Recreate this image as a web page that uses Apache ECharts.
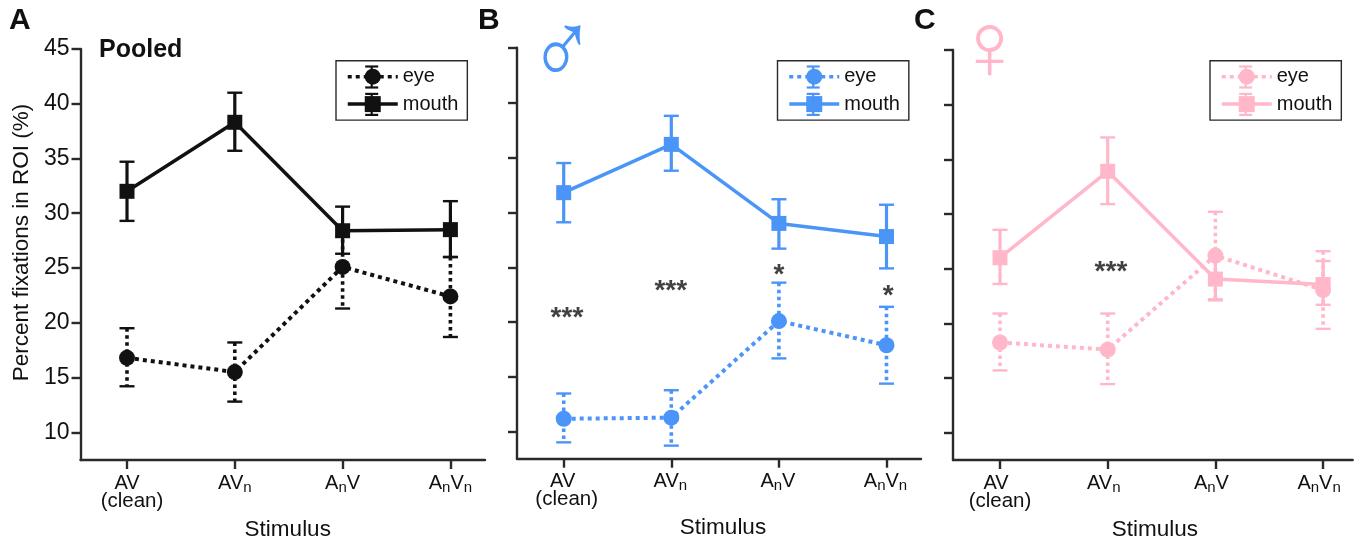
<!DOCTYPE html>
<html><head><meta charset="utf-8">
<style>html,body{margin:0;padding:0;background:#fff}#c{width:1360px;height:546px}</style>
<script src="https://cdn.jsdelivr.net/npm/echarts@6/dist/echarts.min.js"></script>
</head><body><div id="c"></div>
<script>
const categories = ['{a|AV}\n{c|(clean)}', '{a|AV}{s|n}', '{a|A}{s|n}{a|V}', '{a|A}{s|n}{a|V}{s|n}'];
const yTicks = [10, 15, 20, 25, 30, 35, 40, 45];

const eyeA = [16.8, 15.5, 25.1, 22.4];
const eyeAHi = [19.5, 18.2, 28.9, 26.0];
const eyeALo = [14.2, 12.8, 21.3, 18.7];
const mouthA = [32.0, 38.3, 28.4, 28.5];
const mouthAHi = [34.7, 41.0, 30.6, 31.1];
const mouthALo = [29.3, 35.7, 26.3, 26.0];

const eyeB = [11.2, 11.3, 20.1, 17.9];
const eyeBHi = [13.5, 13.8, 23.6, 21.4];
const eyeBLo = [9.05, 8.75, 16.7, 14.4];
const mouthB = [31.8, 36.2, 29.0, 27.8];
const mouthBHi = [34.5, 38.8, 31.2, 30.7];
const mouthBLo = [29.1, 33.8, 26.7, 24.9];

const eyeC = [18.25, 17.6, 26.2, 23.05];
const eyeCHi = [20.9, 20.9, 30.2, 26.6];
const eyeCLo = [15.7, 14.45, 22.2, 19.5];
const mouthC = [26.0, 33.9, 24.05, 23.55];
const mouthCHi = [28.55, 37.0, 26.0, 25.7];
const mouthCLo = [23.6, 30.9, 22.1, 21.7];

// significance marks: [x position, y value, text]
const sigB = [[0.03, 21.0, '***'], [0.995, 23.45, '***'], [2.0, 24.9, '*'], [3.015, 23.0, '*']];
const sigC = [[1.03, 25.3, '***']];

const BLUE = '#4a95f7', PINK = '#ffb7c9', INK = '#111', AXIS = '#2a2a2a';
const FONT = '"Liberation Sans", Arial, sans-serif';

const panels = [
  {id:'A', color:INK,  eye:eyeA, eyeHi:eyeAHi, eyeLo:eyeALo, mouth:mouthA, mouthHi:mouthAHi, mouthLo:mouthALo, sig:[],
   left:80.5, right:485, first:127, step:107.8, top:48.9, bottom:460.8, min:7.47, labels:true, shift:0, nameShift:5, legendLeft:336},
  {id:'B', color:BLUE, eye:eyeB, eyeHi:eyeBHi, eyeLo:eyeBLo, mouth:mouthB, mouthHi:mouthBHi, mouthLo:mouthBLo, sig:sigB,
   left:517, right:921, first:563.7, step:107.6, top:47.8, bottom:458.7, min:7.56, labels:false, shift:-1, nameShift:4, legendLeft:777.5},
  {id:'C', color:PINK, eye:eyeC, eyeHi:eyeCHi, eyeLo:eyeCLo, mouth:mouthC, mouthHi:mouthCHi, mouthLo:mouthCLo, sig:sigC,
   left:953, right:1352.7, first:1000, step:107.7, top:49.9, bottom:461.1, min:7.51, labels:false, shift:-4, nameShift:2, legendLeft:1210}
];

function errItem(color, dashed) {
  return function (params, api) {
    const x = api.value(0);
    const hi = api.coord([x, api.value(1)]);
    const lo = api.coord([x, api.value(2)]);
    const cap = 7.5;
    const stem = {stroke: color, lineWidth: dashed ? 3.6 : 3.2, lineDash: dashed ? [3.5, 3.5] : null};
    const capSt = {stroke: color, lineWidth: 2.4};
    return {type: 'group', children: [
      {type:'line', shape:{x1:hi[0], y1:hi[1], x2:lo[0], y2:lo[1]}, style: stem},
      {type:'line', shape:{x1:hi[0]-cap, y1:hi[1], x2:hi[0]+cap, y2:hi[1]}, style: capSt},
      {type:'line', shape:{x1:lo[0]-cap, y1:lo[1], x2:lo[0]+cap, y2:lo[1]}, style: capSt}
    ]};
  };
}

const grid = [], xAxis = [], yAxis = [], legend = [], series = [], legendGlyphs = [];
panels.forEach((p, i) => {
  grid.push({left:p.left, top:p.top, width:p.right-p.left, height:p.bottom-p.top, containLabel:false});
  const lab = {fontSize:20, color:INK, fontFamily:FONT};
  xAxis.push({
    type:'value', gridIndex:i,
    min:-(p.first-p.left)/p.step, max:3+(p.right-(p.first+3*p.step))/p.step,
    splitLine:{show:false},
    axisLine:{onZero:false, lineStyle:{color:AXIS, width:2.4}},
    axisTick:{customValues:[0,1,2,3], length:9, lineStyle:{color:AXIS, width:2.4}},
    axisLabel:{customValues:[0,1,2,3], margin:11, formatter:v => categories[v],
      padding: p.shift < 0 ? [0, -2*p.shift, 0, 0] : 0,
      rich:{a:{...lab, lineHeight:24}, c:{...lab, fontSize:20.5, lineHeight:12, padding:[0,0,0,p.id==='A'?10:8]},
            s:{fontSize:15, color:INK, fontFamily:FONT, lineHeight:12, padding:[12,0,0,0], verticalAlign:'bottom'}}},
    name:'Stimulus', nameLocation:'middle', nameGap:58,
    nameTextStyle:{fontSize:22.5, color:INK, fontFamily:FONT, padding:[0,0,0,2*p.nameShift]}
  });
  yAxis.push({
    type:'value', gridIndex:i, min:p.min, max:45,
    splitLine:{show:false},
    axisLine:{onZero:false, lineStyle:{color:AXIS, width:2.4}},
    axisTick:{customValues:yTicks, length:9, lineStyle:{color:AXIS, width:2.4}},
    axisLabel:{show:p.labels, customValues:yTicks, margin:11, fontSize:23, color:INK, fontFamily:FONT},
    name:p.labels ? 'Percent fixations in ROI (%)' : '', nameLocation:'middle', nameGap:47,
    nameTextStyle:{fontSize:22.5, color:INK, fontFamily:FONT, padding:[0,0,0,24]}
  });
  const eyeName = 'eye-' + p.id, mouthName = 'mouth-' + p.id;
  legend.push({
    data:[eyeName, mouthName], orient:'vertical', left:p.legendLeft, top:60.7,
    selectedMode:false, borderColor:AXIS, borderWidth:1.4, backgroundColor:'#fff',
    padding:[6,9,6,10], itemWidth:50, itemHeight:20, itemGap:7.4,
    lineStyle:{width:3.5},
    textStyle:{fontSize:20, lineHeight:20, color:INK, fontFamily:FONT},
    formatter:n => n.split('-')[0], z:10
  });
  // error-bar part of the legend keys
  [77, 104.4].forEach(cy => {
    const cx = p.legendLeft + 35.7, h = 10.5, w = 6.5;
    const st = {stroke:p.color, lineWidth:2.2};
    legendGlyphs.push(
      {type:'line', z:30, shape:{x1:cx, y1:cy-h, x2:cx, y2:cy+h}, style:st},
      {type:'line', z:30, shape:{x1:cx-w, y1:cy-h, x2:cx+w, y2:cy-h}, style:st},
      {type:'line', z:30, shape:{x1:cx-w, y1:cy+h, x2:cx+w, y2:cy+h}, style:st});
  });
  const rows = (m, h, l) => m.map((_, k) => [k, h[k], l[k]]);
  const errCommon = {type:'custom', xAxisIndex:i, yAxisIndex:i, encode:{x:0, y:[1,2]}, silent:true, clip:false};
  series.push({...errCommon, name:'eye err '+p.id, renderItem:errItem(p.color, true), data:rows(p.eye,p.eyeHi,p.eyeLo), z:2});
  series.push({type:'line', name:eyeName, xAxisIndex:i, yAxisIndex:i, data:p.eye.map((v,k)=>[k,v]),
    symbol:'circle', symbolSize:16, showSymbol:true, itemStyle:{color:p.color},
    lineStyle:{color:p.color, width:4, type:[4,4]}, z:3, silent:true});
  series.push({...errCommon, name:'mouth err '+p.id, renderItem:errItem(p.color, false), data:rows(p.mouth,p.mouthHi,p.mouthLo), z:4});
  series.push({type:'line', name:mouthName, xAxisIndex:i, yAxisIndex:i, data:p.mouth.map((v,k)=>[k,v]),
    symbol:'rect', symbolSize:15, itemStyle:{color:p.color},
    lineStyle:{color:p.color, width:3.5}, z:5, silent:true});
  if (p.sig.length) series.push({type:'scatter', name:'sig '+p.id, xAxisIndex:i, yAxisIndex:i, symbolSize:0, silent:true, z:6,
    data:p.sig.map(s=>({value:[s[0],s[1]], label:{show:true, position:'inside', formatter:s[2], fontSize:28, fontWeight:'bold', color:INK, fontFamily:FONT, offset:[0,7]}}))});
});

const txt = (x, y, text, size, weight, color, family, sx, sy) => ({type:'text', x, y, scaleX:sx||1, scaleY:sy||1, z:30, style:{text, fontSize:size, fontWeight:weight, fill:color, fontFamily:family||FONT, verticalAlign:'middle'}});
const chart = echarts.init(document.getElementById('c'), null, {renderer:'canvas'});
chart.setOption({
  animation:false, backgroundColor:'#fff',
  grid, xAxis, yAxis, legend, series, tooltip:{show:false},
  graphic:[
    txt(9, 21, 'A', 30, 'bold', INK),
    txt(478, 21, 'B', 30, 'bold', INK),
    txt(914, 21, 'C', 30, 'bold', INK),
    txt(99, 50, 'Pooled', 25, 'bold', INK),
    txt(529, 55.5, '♂', 96, 'normal', BLUE, '"Liberation Sans"', 0.92, 1.1),
    txt(953.7, 53, '♀', 96, 'normal', PINK, '"Liberation Sans"'),
    ...legendGlyphs
  ]
});
</script></body></html>
